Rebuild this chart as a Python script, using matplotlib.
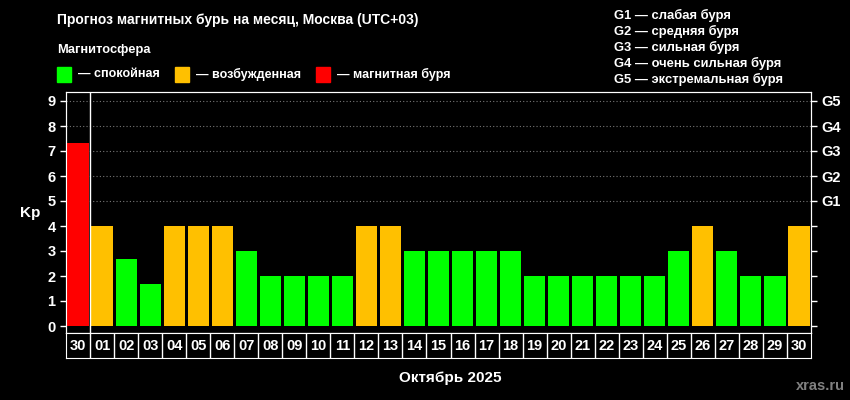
import matplotlib.pyplot as plt
from matplotlib.patches import Rectangle

days = ["30", "01", "02", "03", "04", "05", "06", "07", "08", "09", "10",
        "11", "12", "13", "14", "15", "16", "17", "18", "19", "20", "21",
        "22", "23", "24", "25", "26", "27", "28", "29", "30"]
kp = [7.33, 4, 2.67, 1.67, 4, 4, 4, 3, 2, 2, 2, 2, 4, 4, 3, 3, 3, 3, 3,
      2, 2, 2, 2, 2, 2, 3, 4, 3, 2, 2, 4]
g_labels = ["G1", "G2", "G3", "G4", "G5"]
g_text = ["G1 — слабая буря", "G2 — средняя буря", "G3 — сильная буря",
          "G4 — очень сильная буря", "G5 — экстремальная буря"]
legend_names = ["— спокойная", "— возбужденная", "— магнитная буря"]

GREEN = "#00ff00"
ORANGE = "#ffc000"
RED = "#ff0000"
legend_colors = [GREEN, ORANGE, RED]


def kp_color(v):
    if v >= 5:
        return RED
    if v >= 4:
        return ORANGE
    return GREEN


plt.rcParams['font.family'] = ['Liberation Sans', 'DejaVu Sans']
plt.rcParams['font.weight'] = 'bold'

fig = plt.figure(figsize=(8.5, 4), dpi=100, facecolor="black")

ax = fig.add_axes([66 / 850, 1 - 333 / 400, 745 / 850, 241 / 400])
ax.set_facecolor("black")
x = list(range(len(days)))
ax.bar(x, kp, width=0.88, color=[kp_color(v) for v in kp], zorder=3)
ax.set_xlim(-0.5, len(days) - 0.5)
ax.set_ylim(-0.28, 9.36)
ax.set_xticks([])
ax.set_yticks(range(10))
ax.tick_params(axis='y', colors="white", labelsize=10.5, length=4, width=1)
for lbl in ax.get_yticklabels():
    lbl.set_fontweight('bold')
for s in ax.spines.values():
    s.set_color("white")
for g in range(5, 10):
    ax.axhline(g, color="#777777", lw=0.8, ls=(0, (1, 2)), zorder=1)
ax.axvline(0.5, color="white", lw=1, zorder=4)
ax.set_ylabel("Kp", color="white", fontsize=11, fontweight='bold',
              rotation=0, labelpad=12, va='center')

ax2 = ax.twinx()
ax2.set_ylim(ax.get_ylim())
ax2.set_yticks(range(10))
ax2.set_yticklabels([""] * 5 + g_labels)
ax2.tick_params(axis='y', colors="white", labelsize=10.5, length=4, width=1)
for lbl in ax2.get_yticklabels():
    lbl.set_fontweight('bold')
for s in ax2.spines.values():
    s.set_color("white")

# day label cells under the bars
axd = fig.add_axes([66 / 850, 1 - 358 / 400, 745 / 850, 25 / 400])
axd.set_facecolor("black")
axd.set_xlim(ax.get_xlim())
axd.set_ylim(0, 1)
axd.set_xticks([])
axd.set_yticks([])
for s in axd.spines.values():
    s.set_color("white")
for i, d in enumerate(days):
    axd.text(i, 0.5, d, color="white", fontsize=10.5, fontweight='bold',
             ha='center', va='center')
    if i > 0:
        axd.axvline(i - 0.5, color="white", lw=1)

fig.text(57 / 850, 1 - 20 / 400, "Прогноз магнитных бурь на месяц, Москва (UTC+03)",
         color="white", fontsize=10, fontweight='bold', va='center')
fig.text(57 / 850, 1 - 50 / 400, "Магнитосфера", color="white", fontsize=9.3,
         fontweight='bold', va='center')
sq_x = [57, 175, 316]
for sx, c, name in zip(sq_x, legend_colors, legend_names):
    fig.patches.append(Rectangle((sx / 850, 1 - 82 / 400), 14 / 850, 15 / 400,
                                 transform=fig.transFigure, color=c))
    fig.text((sx + 21) / 850, 1 - 74 / 400, name, color="white", fontsize=9,
             fontweight='bold', va='center')

for k, t in enumerate(g_text):
    fig.text(614 / 850, 1 - (15 + 16 * k) / 400, t, color="white", fontsize=9.4,
             fontweight='bold', va='center')

fig.text(450 / 850, 1 - 378 / 400, "Октябрь 2025", color="white", fontsize=11,
         fontweight='bold', ha='center', va='center')
fig.text(845 / 850, 1 - 386 / 400, "xras.ru", color="#808080", fontsize=10.5,
         fontweight='bold', ha='right', va='center')

fig.savefig("out.png", dpi=100, facecolor="black")
